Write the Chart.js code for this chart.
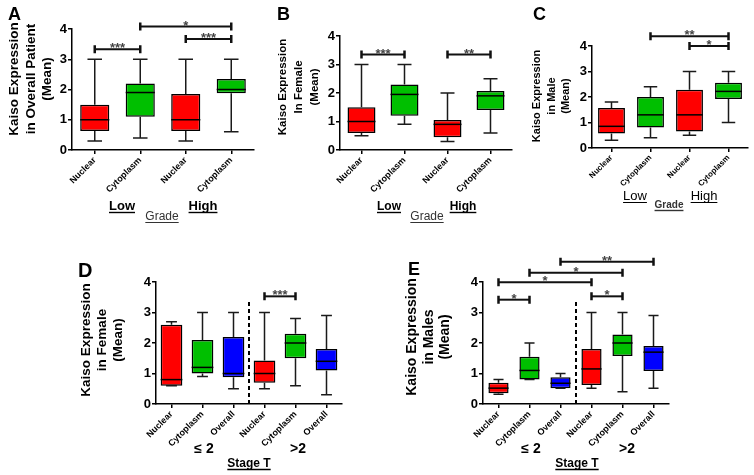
<!DOCTYPE html>
<html><head><meta charset="utf-8">
<script src="https://cdn.jsdelivr.net/npm/chart.js@4/dist/chart.umd.min.js"></script>
<style>
html,body{margin:0;padding:0;background:#fff;}
#wrap{position:relative;width:754px;height:475px;overflow:hidden;background:#fff;}
#wrap canvas{position:absolute;left:0;top:0;}
</style></head><body>
<div id="wrap">
<canvas id="cA" width="754" height="475"></canvas>
<canvas id="cB" width="754" height="475"></canvas>
<canvas id="cC" width="754" height="475"></canvas>
<canvas id="cD" width="754" height="475"></canvas>
<canvas id="cE" width="754" height="475"></canvas>
</div>
<script>
// ---------- DATA ----------
const gradeCategories = ['Nuclear', 'Cytoplasm', 'Nuclear', 'Cytoplasm'];
const stageCategories = ['Nuclear', 'Cytoplasm', 'Overall', 'Nuclear', 'Cytoplasm', 'Overall'];
const yTickValues = [0, 1, 2, 3, 4];

// Panel A: Kaiso expression in overall patients, by grade
const aMin    = [0.30, 0.40, 0.30, 0.60];
const aQ1     = [0.63, 1.10, 0.63, 1.88];
const aMedian = [1.00, 1.90, 1.00, 2.00];
const aQ3     = [1.50, 2.20, 1.85, 2.35];
const aMax    = [3.00, 3.00, 3.00, 3.00];
const aSigFrom = [0, 1, 2];
const aSigTo   = [1, 3, 3];
const aSigY    = [3.33, 4.08, 3.67];
const aSigText = ['***', '*', '***'];

// Panel B: in female, by grade
const bMin    = [0.50, 0.90, 0.30, 0.60];
const bQ1     = [0.60, 1.20, 0.45, 1.40];
const bMedian = [1.00, 1.95, 0.90, 1.90];
const bQ3     = [1.50, 2.30, 1.05, 2.07];
const bMax    = [3.00, 3.00, 2.00, 2.50];
const bSigFrom = [0, 2];
const bSigTo   = [1, 3];
const bSigY    = [3.35, 3.35];
const bSigText = ['***', '**'];

// Panel C: in male, by grade
const cMin    = [0.30, 0.40, 0.50, 1.00];
const cQ1     = [0.57, 0.80, 0.65, 1.92];
const cMedian = [0.85, 1.30, 1.30, 2.22];
const cQ3     = [1.57, 2.00, 2.28, 2.56];
const cMax    = [1.80, 2.40, 3.00, 3.00];
const cSigFrom = [1, 2];
const cSigTo   = [3, 3];
const cSigY    = [4.38, 4.00];
const cSigText = ['**', '*'];

// Panel D: in female, by stage T
const dMin    = [0.60, 0.90, 0.50, 0.50, 0.60, 0.30];
const dQ1     = [0.60, 1.00, 0.88, 0.70, 1.50, 1.10];
const dMedian = [0.80, 1.20, 1.00, 1.00, 2.00, 1.40];
const dQ3     = [2.60, 2.10, 2.20, 1.43, 2.30, 1.80];
const dMax    = [2.70, 3.00, 3.00, 3.00, 2.80, 2.90];
const dSigFrom = [3];
const dSigTo   = [4];
const dSigY    = [3.53];
const dSigText = ['***'];

// Panel E: in males, by stage T
const eMin    = [0.32, 0.80, 0.52, 0.52, 0.40, 0.52];
const eQ1     = [0.35, 0.80, 0.52, 0.62, 1.57, 1.08];
const eMedian = [0.52, 1.10, 0.68, 1.15, 2.00, 1.70];
const eQ3     = [0.70, 1.55, 0.88, 1.80, 2.28, 1.90];
const eMax    = [0.80, 2.00, 1.00, 3.00, 3.00, 2.90];
const eSigFrom = [0, 0, 1, 2, 3];
const eSigTo   = [1, 3, 4, 5, 4];
const eSigY    = [3.42, 3.99, 4.30, 4.66, 3.53];
const eSigText = ['*', '*', '*', '**', '*'];

// ---------- STYLE ----------
const FONT = "'Liberation Sans', Arial, sans-serif";
Chart.defaults.font.family = FONT;
const RED = '#ff0000', GREEN = '#00bf00', BLUE = '#0000ff';
const W = 754, H = 475, Y_AXIS_W = 30, X_AXIS_H = 60;

function makePlugin(spec) {
  return {
    id: 'boxplot_' + spec.id,
    afterDatasetsDraw(chart) {
      const ctx = chart.ctx, xs = chart.scales.x, ys = chart.scales.y;
      const meta = chart.getDatasetMeta(0);
      ctx.save();
      ctx.lineCap = 'butt';
      meta.data.forEach((bar, i) => {
        const cx = bar.x, w = bar.width;
        const pMin = ys.getPixelForValue(spec.min[i]);
        const pQ1 = ys.getPixelForValue(spec.q1[i]);
        const pQ3 = ys.getPixelForValue(spec.q3[i]);
        const pMax = ys.getPixelForValue(spec.max[i]);
        const pMed = ys.getPixelForValue(spec.median[i]);
        ctx.strokeStyle = '#1a1a1a';
        ctx.lineWidth = 1.5;
        ctx.beginPath();
        ctx.moveTo(cx, pQ3); ctx.lineTo(cx, pMax);
        ctx.moveTo(cx - w * 0.25, pMax); ctx.lineTo(cx + w * 0.25, pMax);
        ctx.moveTo(cx, pQ1); ctx.lineTo(cx, pMin);
        ctx.moveTo(cx - w * 0.25, pMin); ctx.lineTo(cx + w * 0.25, pMin);
        ctx.stroke();
        ctx.strokeStyle = '#000';
        ctx.beginPath();
        ctx.moveTo(cx - w / 2, pMed); ctx.lineTo(cx + w / 2, pMed);
        ctx.stroke();
      });
      // significance brackets
      spec.sigFrom.forEach((f, k) => {
        const x1 = xs.getPixelForValue(f), x2 = xs.getPixelForValue(spec.sigTo[k]);
        const py = ys.getPixelForValue(spec.sigY[k]);
        ctx.strokeStyle = '#111';
        ctx.lineWidth = 2;
        ctx.beginPath();
        ctx.moveTo(x1, py); ctx.lineTo(x2, py);
        ctx.stroke();
        ctx.lineWidth = 2.5;
        ctx.beginPath();
        ctx.moveTo(x1, py - 4); ctx.lineTo(x1, py + 4);
        ctx.moveTo(x2, py - 4); ctx.lineTo(x2, py + 4);
        ctx.stroke();
        ctx.fillStyle = '#444';
        ctx.font = 'bold 13px ' + FONT;
        ctx.textAlign = 'center';
        ctx.textBaseline = 'alphabetic';
        ctx.fillText(spec.sigText[k], (x1 + x2) / 2, py + 3);
      });
      // dashed divider
      if (spec.divider) {
        const dx = (xs.getPixelForValue(spec.divider.after) + xs.getPixelForValue(spec.divider.after + 1)) / 2;
        ctx.strokeStyle = '#000';
        ctx.lineWidth = 2;
        ctx.setLineDash([4, 3]);
        ctx.beginPath();
        ctx.moveTo(dx, ys.getPixelForValue(0));
        ctx.lineTo(dx, ys.getPixelForValue(spec.divider.top));
        ctx.stroke();
        ctx.setLineDash([]);
      }
      ctx.restore();
    },
    afterDraw(chart) {
      const ctx = chart.ctx;
      ctx.save();
      // rotated y title
      const t = spec.title;
      ctx.fillStyle = '#000';
      ctx.font = 'bold ' + t.size + 'px ' + FONT;
      ctx.textAlign = 'center';
      ctx.textBaseline = 'middle';
      t.lines.forEach((line, k) => {
        ctx.save();
        ctx.translate(t.xs[k], t.cy);
        ctx.rotate(-Math.PI / 2);
        ctx.fillText(line, 0, 0);
        ctx.restore();
      });
      // panel letter
      ctx.font = 'bold ' + spec.letter.size + 'px ' + FONT;
      ctx.textAlign = 'left';
      ctx.textBaseline = 'alphabetic';
      ctx.fillText(spec.letter.text, spec.letter.x, spec.letter.y);
      // group labels
      spec.labels.forEach(g => {
        ctx.font = (g.bold ? 'bold ' : '') + g.size + 'px ' + FONT;
        ctx.fillStyle = g.color || '#000';
        ctx.strokeStyle = g.color || '#000';
        ctx.textAlign = 'center';
        ctx.textBaseline = 'alphabetic';
        ctx.fillText(g.text, g.x, g.y);
        if (g.underline) {
          const w = ctx.measureText(g.text).width;
          ctx.lineWidth = g.bold ? 1.4 : 1;
          ctx.beginPath();
          ctx.moveTo(g.x - w / 2, g.y + 2.5);
          ctx.lineTo(g.x + w / 2, g.y + 2.5);
          ctx.stroke();
        }
      });
      ctx.restore();
    }
  };
}

function makeChart(spec) {
  const a = spec.area;
  return new Chart(document.getElementById(spec.id), {
    type: 'bar',
    data: {
      labels: spec.categories,
      datasets: [{
        data: spec.q1.map((v, i) => [v, spec.q3[i]]),
        backgroundColor: spec.colors,
        borderColor: '#000',
        borderWidth: 1.5,
        borderSkipped: false,
        barPercentage: spec.barPct,
        categoryPercentage: 1
      }]
    },
    options: {
      responsive: false,
      animation: false,
      events: [],
      layout: { padding: { left: a.left - Y_AXIS_W, top: a.top, right: W - a.right, bottom: H - a.bottom - X_AXIS_H } },
      plugins: { legend: { display: false }, tooltip: { enabled: false } },
      scales: {
        x: {
          type: 'category',
          offset: true,
          afterFit: s => { s.height = X_AXIS_H; },
          grid: { offset: false, drawOnChartArea: false, drawTicks: true, tickLength: 4, color: '#000', lineWidth: 1.5 },
          border: { display: true, color: '#000', width: 1.5 },
          ticks: { color: '#000', font: { size: spec.catFont, weight: 'bold' }, minRotation: 45, maxRotation: 45, padding: 1, autoSkip: false }
        },
        y: {
          min: 0, max: 4,
          afterFit: s => { s.width = Y_AXIS_W; },
          afterBuildTicks: s => { s.ticks = yTickValues.map(v => ({ value: v })); },
          grid: { drawOnChartArea: false, drawTicks: true, tickLength: 4, color: '#000', lineWidth: 1.5 },
          border: { display: true, color: '#000', width: 1.5 },
          ticks: { color: '#000', font: { size: 13, weight: 'bold' }, padding: 1 }
        }
      }
    },
    plugins: [makePlugin(spec)]
  });
}

makeChart({
  id: 'cA', categories: gradeCategories,
  min: aMin, q1: aQ1, median: aMedian, q3: aQ3, max: aMax,
  sigFrom: aSigFrom, sigTo: aSigTo, sigY: aSigY, sigText: aSigText,
  colors: [RED, GREEN, RED, GREEN], barPct: 0.64, catFont: 9,
  area: { left: 72, right: 254, top: 29, bottom: 150 },
  title: { lines: ['Kaiso Expression', 'in Overall Patient', '(Mean)'], xs: [14, 31, 47], cy: 79, size: 13.5 },
  letter: { text: 'A', x: 8, y: 20, size: 18 },
  labels: [
    { text: 'Low', x: 122, y: 210, size: 13, bold: true, underline: true },
    { text: 'High', x: 203, y: 210, size: 13, bold: true, underline: true },
    { text: 'Grade', x: 162, y: 220, size: 12, bold: false, underline: true, color: '#333' }
  ]
});

makeChart({
  id: 'cB', categories: gradeCategories,
  min: bMin, q1: bQ1, median: bMedian, q3: bQ3, max: bMax,
  sigFrom: bSigFrom, sigTo: bSigTo, sigY: bSigY, sigText: bSigText,
  colors: [RED, GREEN, RED, GREEN], barPct: 0.65, catFont: 9,
  area: { left: 340, right: 512, top: 36, bottom: 150 },
  title: { lines: ['Kaiso Expression', 'In Female', '(Mean)'], xs: [283, 299, 315], cy: 87, size: 11.5 },
  letter: { text: 'B', x: 277, y: 20, size: 18 },
  labels: [
    { text: 'Low', x: 389, y: 210, size: 12, bold: true, underline: true },
    { text: 'High', x: 463, y: 210, size: 12, bold: true, underline: true },
    { text: 'Grade', x: 427, y: 220, size: 12, bold: false, underline: true, color: '#333' }
  ]
});

makeChart({
  id: 'cC', categories: gradeCategories,
  min: cMin, q1: cQ1, median: cMedian, q3: cQ3, max: cMax,
  sigFrom: cSigFrom, sigTo: cSigTo, sigY: cSigY, sigText: cSigText,
  colors: [RED, GREEN, RED, GREEN], barPct: 0.69, catFont: 8,
  area: { left: 592, right: 748, top: 46, bottom: 148 },
  title: { lines: ['Kaiso Expression', 'in Male', '(Mean)'], xs: [537, 552, 566], cy: 96, size: 11 },
  letter: { text: 'C', x: 533, y: 20, size: 18 },
  labels: [
    { text: 'Low', x: 635, y: 200, size: 13, bold: false, underline: true },
    { text: 'High', x: 704, y: 200, size: 13, bold: false, underline: true },
    { text: 'Grade', x: 669, y: 208, size: 10, bold: true, underline: true, color: '#333' }
  ]
});

makeChart({
  id: 'cD', categories: stageCategories,
  min: dMin, q1: dQ1, median: dMedian, q3: dQ3, max: dMax,
  sigFrom: dSigFrom, sigTo: dSigTo, sigY: dSigY, sigText: dSigText,
  colors: [RED, GREEN, BLUE, RED, GREEN, BLUE], barPct: 0.7, catFont: 9,
  divider: { after: 2, top: 3.4 },
  area: { left: 156, right: 342, top: 282, bottom: 404 },
  title: { lines: ['Kaiso Expression', 'in Female', '(Mean)'], xs: [86, 102, 118], cy: 340, size: 13.5 },
  letter: { text: 'D', x: 78, y: 277, size: 20 },
  labels: [
    { text: '≤ 2', x: 204, y: 453, size: 14, bold: true },
    { text: '>2', x: 298, y: 453, size: 14, bold: true },
    { text: 'Stage T', x: 249, y: 467, size: 12, bold: true, underline: true }
  ]
});

makeChart({
  id: 'cE', categories: stageCategories,
  min: eMin, q1: eQ1, median: eMedian, q3: eQ3, max: eMax,
  sigFrom: eSigFrom, sigTo: eSigTo, sigY: eSigY, sigText: eSigText,
  colors: [RED, GREEN, BLUE, RED, GREEN, BLUE], barPct: 0.65, catFont: 9,
  divider: { after: 2, top: 3.4 },
  area: { left: 483, right: 669, top: 282, bottom: 404 },
  title: { lines: ['Kaiso Expression', 'in Males', '(Mean)'], xs: [412, 429, 445], cy: 337, size: 14 },
  letter: { text: 'E', x: 408, y: 275, size: 18 },
  labels: [
    { text: '≤ 2', x: 531, y: 453, size: 14, bold: true },
    { text: '>2', x: 627, y: 453, size: 14, bold: true },
    { text: 'Stage T', x: 577, y: 467, size: 12, bold: true, underline: true }
  ]
});
</script>
</body></html>
